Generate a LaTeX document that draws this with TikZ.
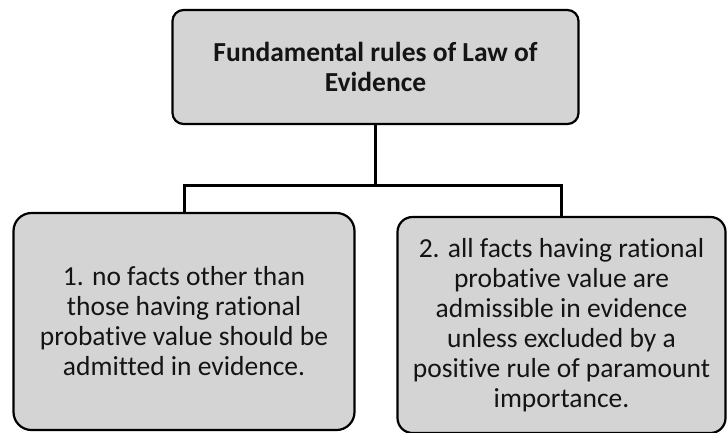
\documentclass[tikz,border=0pt]{standalone}
\usepackage{fontspec}
\setmainfont{Carlito}[Ligatures=NoCommon]
\begin{document}
\begin{tikzpicture}[x=1pt,y=-1pt,
  box/.style={draw=black, line width=2.2pt, fill=black!17, align=center,
    font=\fontsize{27.5}{30}\selectfont, inner sep=0pt, text=black!92},
  link/.style={draw=black, line width=3pt}]
  \useasboundingbox (0,0) rectangle (728,432);
  \begin{scope}
    \clip (0,0) rectangle (728,432);
    % heading box
    \node[box, rounded corners=11pt, minimum width=406pt, minimum height=114pt,
          font=\bfseries\fontsize{27.5}{30}\selectfont]
      (top) at (375.5,67) {Fundamental rules of Law of\\Evidence};
    % the two rules
    \node[box, rounded corners=18pt, minimum width=341pt, minimum height=217pt]
      (left) at (184,321.5) {1. no facts other than\\those having rational\\probative value should be\\admitted in evidence.};
    \node[box, rounded corners=15pt, minimum width=328pt, minimum height=216pt]
      (right) at (561.5,325) {2. all facts having rational\\probative value are\\admissible in evidence\\unless excluded by a\\positive rule of paramount\\importance.};
    % connector tree
    \coordinate (bus) at (373,185);
    \draw[link] (top.south) -- (top.south |- bus);
    \draw[link] (left.north) -- (left.north |- bus) -- (right.north |- bus) -- (right.north);
  \end{scope}
\end{tikzpicture}
\end{document}
